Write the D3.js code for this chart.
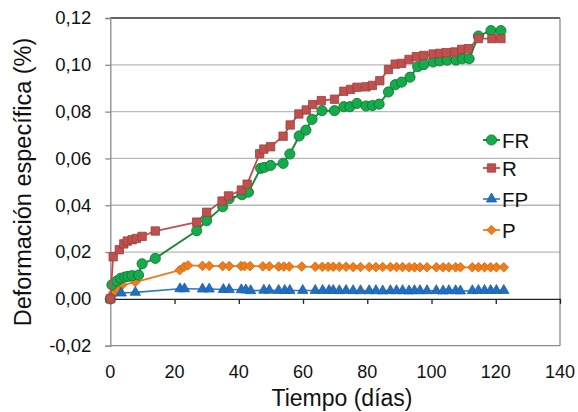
<!DOCTYPE html>
<html><head><meta charset="utf-8">
<script src="https://cdn.jsdelivr.net/npm/d3@7"></script>
<style>body{margin:0;background:#fff}svg{font-family:"Liberation Sans",Arial,sans-serif}</style>
</head><body><svg id="c" width="578" height="412"></svg>
<script>
const xTicks=[0,20,40,60,80,100,120,140];
const yTicks=[-0.02,0,0.02,0.04,0.06,0.08,0.10,0.12];
const seriesNames=["FR","R","FP","P"];

const frDays=[0,0.5,2,3.2,4.5,5.5,6.8,8.8,9.9,14,26.9,30,35,37,41,43,46.8,48,49.9,53.8,55.9,58.8,60.9,62.8,65.9,69.8,72.7,74.6,76.8,79.6,81.6,83.7,86.6,88.7,90.7,93.3,95.7,97.6,100.5,102.6,104.9,107.6,109.6,111.7,114.6,118.5,121.6];
const frVals=[0,0.006,0.0076,0.0088,0.0093,0.0096,0.0099,0.0102,0.015,0.0173,0.0291,0.0334,0.0394,0.0428,0.0445,0.0456,0.0558,0.0562,0.057,0.0579,0.0619,0.0696,0.0721,0.0767,0.0804,0.0804,0.0821,0.0821,0.0835,0.0824,0.0826,0.0832,0.0884,0.0915,0.0926,0.0947,0.0992,0.1001,0.1012,0.1017,0.102,0.102,0.1026,0.1026,0.1123,0.1146,0.1146];

const rDays=[0,0.9,2.8,4.2,5.3,6.8,8.1,9.9,14,26.9,30,34.8,36.8,40.8,42.6,46.5,47.8,49.9,53.8,56,58.7,61,63,65.7,69.8,72.7,74.8,76.8,79.6,81.6,83.9,86.6,88.7,90.7,93,95.3,97.6,100.5,102.6,104.6,107.3,109.4,111.5,114.6,118.8,121.6];
const rVals=[0,0.018,0.021,0.0235,0.0247,0.0253,0.0258,0.0267,0.029,0.0328,0.037,0.0418,0.044,0.0465,0.0490,0.062,0.064,0.065,0.0695,0.0743,0.079,0.0807,0.083,0.0847,0.0853,0.0887,0.0895,0.0904,0.0906,0.0912,0.0932,0.098,0.1003,0.1006,0.1023,0.1035,0.104,0.1046,0.1049,0.1052,0.1055,0.1066,0.1069,0.1112,0.1112,0.1112];

const pDays=[0,0.9,2.2,3.6,7.8,21.6,23,24.2,28.7,30.8,35,37,40.7,41.8,43.5,47.5,49.5,52.4,54,55.7,59.6,63.8,66,67.8,69.4,71.3,73.4,75.6,77.9,80.6,82.7,84.8,87.2,89.1,91,93,94.7,96.4,98.6,101.5,103.6,105.4,107.5,109,112.7,114.6,116.5,118.4,120.2,122.5];
const pVals=[0,0.0026,0.0043,0.0058,0.0072,0.0123,0.0137,0.0143,0.0141,0.0141,0.014,0.014,0.014,0.014,0.014,0.0139,0.0139,0.0138,0.0138,0.0138,0.0138,0.0137,0.0137,0.0137,0.0137,0.0137,0.0137,0.0136,0.0136,0.0136,0.0136,0.0136,0.0136,0.0136,0.0136,0.0135,0.0135,0.0135,0.0135,0.0135,0.0135,0.0135,0.0135,0.0135,0.0135,0.0135,0.0135,0.0135,0.0135,0.0135];

const fpDays=[0,3.4,7.8,21.7,23.1,28.7,30.8,35.2,37,40.8,42.2,43.7,47.8,49.5,52.4,54.3,55.9,59.9,63.8,66.1,68.1,69.4,71.3,73.4,75.6,77.9,80.6,82.7,84.8,87.2,89.1,91,93,94.7,96.4,98.6,101.5,103.6,105.4,107.5,109,112.7,114.6,116.5,118.4,120.2,122.5];
const fpVals=[0,0.0025,0.0028,0.0043,0.0043,0.0042,0.0042,0.004,0.004,0.0039,0.0038,0.0035,0.0037,0.0037,0.0036,0.0036,0.0036,0.0036,0.0036,0.0036,0.0036,0.0036,0.0035,0.0036,0.0035,0.0035,0.0035,0.0035,0.0034,0.0035,0.0035,0.0035,0.0034,0.0035,0.0035,0.0035,0.0035,0.0034,0.0035,0.0035,0.0034,0.0035,0.0036,0.0036,0.0036,0.0036,0.0036];

const svg=d3.select("#c");
const L=110.3,R=560,T=18,B=345.7;
const x=d3.scaleLinear().domain([0,140]).range([L,R]);
const y=d3.scaleLinear().domain([-0.02,0.12]).range([B,T]);
const fmt=v=>d3.format(".2f")(v).replace(".",",").replace("−","-");

// gridlines
svg.append("g").selectAll("line").data(yTicks.filter(v=>v>0.001&&v<0.119)).join("line")
 .attr("x1",L).attr("x2",R).attr("y1",d=>y(d)).attr("y2",d=>y(d))
 .attr("stroke","#b8b8b8").attr("stroke-width",1.3);
// frame
svg.append("line").attr("x1",L).attr("x2",R).attr("y1",T).attr("y2",T).attr("stroke","#333").attr("stroke-width",1.3);
svg.append("line").attr("x1",L).attr("x2",R).attr("y1",B).attr("y2",B).attr("stroke","#8a8a8a").attr("stroke-width",1.3);
svg.append("line").attr("x1",R).attr("x2",R).attr("y1",T).attr("y2",B).attr("stroke","#8a8a8a").attr("stroke-width",1.3);

// y axis
const yAxis=svg.append("g").attr("transform",`translate(${L},0)`)
 .call(d3.axisLeft(y).tickValues(yTicks).tickFormat(fmt).tickSize(5).tickPadding(14));
yAxis.select(".domain").attr("stroke","#8a8a8a").attr("stroke-width",1.3);
yAxis.selectAll(".tick line").attr("stroke","#8a8a8a").attr("stroke-width",1.3);
yAxis.selectAll("text").attr("font-size",18.5).attr("fill","#111").attr("font-family","Liberation Sans, Arial");

// x axis at y=0
const xAxis=svg.append("g").attr("transform",`translate(0,${y(0)})`)
 .call(d3.axisBottom(x).tickValues(xTicks).tickSize(5).tickSizeOuter(0).tickFormat(d3.format("d")));
xAxis.select(".domain").attr("stroke","#222").attr("stroke-width",1.3);
xAxis.selectAll(".tick line").attr("stroke","#222").attr("stroke-width",1.3);
xAxis.selectAll("text").remove();
svg.append("g").selectAll("text").data(xTicks).join("text")
 .attr("x",d=>x(d)).attr("y",378).attr("text-anchor","middle")
 .attr("font-size",18).attr("fill","#111").text(d=>d);

// titles
svg.append("text").attr("x",342).attr("y",406).attr("text-anchor","middle").attr("font-size",23).attr("fill","#111").text("Tiempo (días)");
svg.append("text").attr("transform","translate(31,182) rotate(-90)").attr("text-anchor","middle").attr("font-size",23.5).attr("fill","#111").text("Deformación específica (%)");

const series=[
 {name:"FR",days:frDays,vals:frVals,line:"#1f8a3e",fill:"#12ad4a",stroke:"#146b30",shape:"circle",lw:2},
 {name:"R",days:rDays,vals:rVals,line:"#c0504d",fill:"#c0504d",stroke:"#98403d",shape:"square",lw:1.8},
 {name:"FP",days:fpDays,vals:fpVals,line:"#2e78c2",fill:"#1f6fc4",stroke:"#1f5fa6",shape:"triangle",lw:1.6},
 {name:"P",days:pDays,vals:pVals,line:"#ec7c22",fill:"#f07d18",stroke:"#c9661a",shape:"diamond",lw:1.8}
];
const diamond=()=>{const h=4.8;return `M0,${-h}L${h},0L0,${h}L${-h},0Z`;};
const sym={circle:d3.symbol(d3.symbolCircle,82),square:d3.symbol(d3.symbolSquare,70),triangle:d3.symbol(d3.symbolTriangle,46),diamond:diamond};
const line=d3.line().x(d=>x(d[0])).y(d=>y(d[1]));
const order=["P","FP","FR","R"];
order.forEach(n=>{
 const s=series.find(q=>q.name===n);
 const pts=s.days.map((d,i)=>[d,s.vals[i]]);
 svg.append("path").datum(pts).attr("d",line).attr("fill","none").attr("stroke",s.line).attr("stroke-width",s.lw);
 svg.append("g").selectAll("path").data(pts).join("path")
  .attr("transform",d=>`translate(${x(d[0])},${y(d[1])})`)
  .attr("d",sym[s.shape]).attr("fill",s.fill).attr("stroke",s.stroke).attr("stroke-width",0.8);
});

// legend
const legY=[140,168,199,230];
series.forEach((s,i)=>{
 const g=svg.append("g").attr("transform",`translate(0,${legY[i]})`);
 g.append("line").attr("x1",483).attr("x2",500).attr("stroke",s.line).attr("stroke-width",s.lw);
 g.append("path").attr("transform","translate(491.5,0)").attr("d",sym[s.shape]).attr("fill",s.fill).attr("stroke",s.stroke).attr("stroke-width",0.8);
 g.append("text").attr("x",502).attr("y",7.5).attr("font-size",20.5).attr("fill","#111").text(s.name);
});
</script></body></html>
